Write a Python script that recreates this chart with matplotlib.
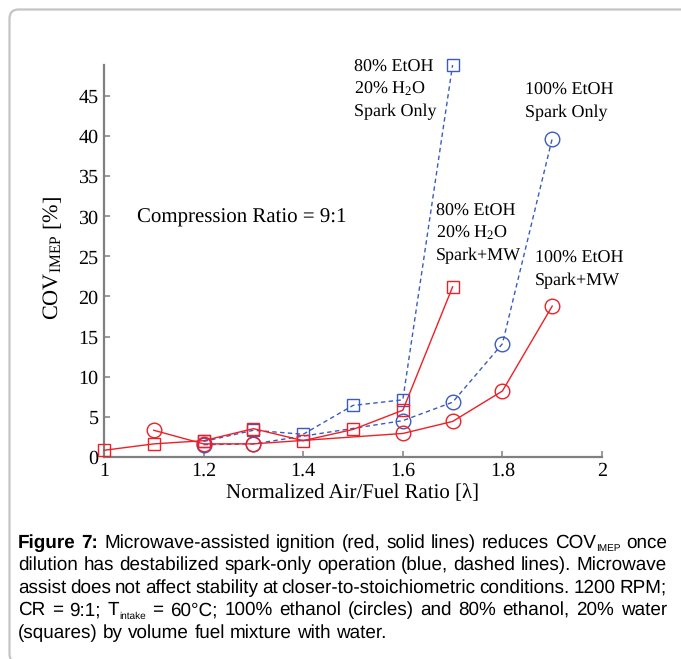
import matplotlib
matplotlib.use('Agg')
import matplotlib.pyplot as plt
from matplotlib.patches import FancyBboxPatch
from matplotlib.transforms import IdentityTransform

# ---------------- data ----------------
x_sq_mw = [1.0, 1.1, 1.2, 1.3, 1.4, 1.5, 1.6, 1.7]
cov_sq_mw = [0.8, 1.6, 2.0, 3.5, 2.0, 3.4, 5.8, 21.2]

x_sq_sp = [1.2, 1.3, 1.4, 1.5, 1.6, 1.7]
cov_sq_sp = [1.9, 3.3, 2.8, 6.4, 7.1, 48.9]

x_ci_mw = [1.1, 1.2, 1.3, 1.6, 1.7, 1.8, 1.9]
cov_ci_mw = [3.3, 1.6, 1.6, 2.9, 4.4, 8.2, 18.8]

x_ci_sp = [1.2, 1.3, 1.6, 1.7, 1.8, 1.9]
cov_ci_sp = [1.5, 1.6, 4.5, 6.8, 14.1, 39.7]

x_ticks = [1.0, 1.2, 1.4, 1.6, 1.8, 2.0]
x_tick_labels = ['1', '1.2', '1.4', '1.6', '1.8', '2']
y_ticks = [0, 5, 10, 15, 20, 25, 30, 35, 40, 45]

# ---------------- style ----------------
plt.rcParams['font.family'] = ['Liberation Serif', 'DejaVu Serif']
plt.rcParams['mathtext.fontset'] = 'custom'
plt.rcParams['mathtext.rm'] = 'Liberation Serif'
plt.rcParams['mathtext.it'] = 'Liberation Serif:italic'
plt.rcParams['mathtext.bf'] = 'Liberation Serif:bold'
plt.rcParams['text.hinting'] = 'no_hinting'

RED = '#ee1f26'
BLUE = '#3b5bbd'
GRAY = '#808080'

W, H = 681, 659
fig = plt.figure(figsize=(W / 100, H / 100), dpi=100)
fig.patch.set_facecolor('white')

# light rounded frame
frame = FancyBboxPatch((9.5, -4), W + 40, H - 9.5 + 4,
                       boxstyle='round,pad=0,rounding_size=9',
                       transform=IdentityTransform(), facecolor='none',
                       edgecolor='#c4c4c4', linewidth=1.6)
fig.patches.append(frame)

ax_l, ax_r, ax_b, ax_t = 104, 602, 456.7, 65
ax = fig.add_axes([ax_l / W, 1 - ax_b / H, (ax_r - ax_l) / W, (ax_b - ax_t) / H])
ax.set_facecolor('none')

dash = (0, (3.2, 2.4))
ax.plot(x_ci_mw, cov_ci_mw, '-', color=RED, lw=1.0, marker='o', ms=10.5,
        mfc='none', mec=RED, mew=1.0, clip_on=False, zorder=3)
ax.plot(x_ci_sp, cov_ci_sp, linestyle=dash, color=BLUE, lw=1.0, marker='o', ms=10.5,
        mfc='none', mec=BLUE, mew=1.0, clip_on=False, zorder=2)
ax.plot(x_sq_sp, cov_sq_sp, linestyle=dash, color=BLUE, lw=1.0, marker='s', ms=8.4,
        mfc='none', mec=BLUE, mew=1.0, clip_on=False, zorder=4)
ax.plot(x_sq_mw, cov_sq_mw, '-', color=RED, lw=1.0, marker='s', ms=8.4,
        mfc='none', mec=RED, mew=1.0, clip_on=False, zorder=5)

ax.set_xlim(1, 2)
ax.set_ylim(0, 48.9)
ax.set_xticks(x_ticks)
ax.set_xticklabels(x_tick_labels)
ax.set_yticks(y_ticks)
ax.tick_params(direction='in', length=4.5, width=1.1, color=GRAY,
               labelsize=14.5, labelcolor='black', pad=4)
for s in ['top', 'right']:
    ax.spines[s].set_visible(False)
for s in ['left', 'bottom']:
    ax.spines[s].set_color(GRAY)
    ax.spines[s].set_linewidth(1.6)

ax.set_xlabel('Normalized Air/Fuel Ratio [\u03bb]', fontsize=15)
ax.xaxis.set_label_coords(0.5, -(493 - ax_b) / (ax_b - ax_t))
ax.xaxis.label.set_va('center')
ax.set_ylabel(r'COV$_{\mathrm{IMEP}}$ [%]', fontsize=16)
ax.yaxis.set_label_coords((53 - ax_l) / (ax_r - ax_l), (ax_b - 258) / (ax_b - ax_t))
ax.yaxis.label.set_va('center')


def ftext(px, py, s, **kw):
    fig.text(px / W, 1 - py / H, s, va='baseline', ha='left', **kw)


# annotations
ann = 13
ftext(354, 71.7, '80% EtOH', fontsize=ann)
ftext(354, 94, r'20% H$_2$O', fontsize=ann)
ftext(354, 116, 'Spark Only', fontsize=ann)

ftext(525, 95, '100% EtOH', fontsize=ann)
ftext(525, 116.7, 'Spark Only', fontsize=ann)

ftext(436, 216, '80% EtOH', fontsize=ann)
ftext(436, 238, r'20% H$_2$O', fontsize=ann)
ftext(436, 260, 'Spark+MW', fontsize=ann)

ftext(535, 263, '100% EtOH', fontsize=ann)
ftext(535, 285, 'Spark+MW', fontsize=ann)

ftext(137, 223, 'Compression Ratio = 9:1', fontsize=15)

# ---------------- caption (justified) ----------------
renderer = fig.canvas.get_renderer()
CF = ['Liberation Sans', 'DejaVu Sans']
cs = 13.6
norm = dict(fontsize=cs, family=CF)
bold = dict(fontsize=cs, family=CF, weight='bold')
sub = dict(fontsize=7.2, family=CF)


def W_(s, kw=norm):
    return [(s, kw, 0)]


line1 = [[('Figure', bold, 0)], [('7:', bold, 0)]] + [W_(w) for w in
         'Microwave-assisted ignition (red, solid lines) reduces'.split()] + \
        [[('COV', norm, 0), ('IMEP', sub, 3.5)], W_('once')]
line2 = [W_(w) for w in 'dilution has destabilized spark-only operation (blue, dashed lines). Microwave'.split()]
line3 = [W_(w) for w in 'assist does not affect stability at closer-to-stoichiometric conditions. 1200 RPM;'.split()]
line4 = [W_('CR'), W_('='), W_('9:1;'), [('T', norm, 0), ('intake', sub, 3.5)]] + \
        [W_(w) for w in '= 60\u00b0C; 100% ethanol (circles) and 80% ethanol, 20% water'.split()]
line5 = [W_(w) for w in '(squares) by volume fuel mixture with water.'.split()]

lines = [line1, line2, line3, line4, line5]
baselines = [547.75, 570.25, 592.75, 615.25, 637.75]
justify = [True, True, True, True, False]
X0, X1 = 18, 667

t1 = fig.text(0, 0, 'a a', **norm)
t2 = fig.text(0, 0, 'aa', **norm)
space_w = t1.get_window_extent(renderer).width - t2.get_window_extent(renderer).width
t1.remove()
t2.remove()

for words, yb, just in zip(lines, baselines, justify):
    measured = []
    for word in words:
        parts = []
        wsum = 0.0
        for txt, kw, dy in word:
            t = fig.text(0, 0, txt, va='baseline', ha='left', **kw)
            w = t.get_window_extent(renderer).width
            parts.append((t, w, dy))
            wsum += w
        measured.append((parts, wsum))
    total = sum(m[1] for m in measured)
    gap = (X1 - X0 - total) / (len(words) - 1) if just else space_w
    x = X0
    for parts, wsum in measured:
        for t, w, dy in parts:
            t.set_position((x / W, 1 - (yb + dy) / H))
            x += w
        x += gap

fig.savefig('out.png', dpi=100)
